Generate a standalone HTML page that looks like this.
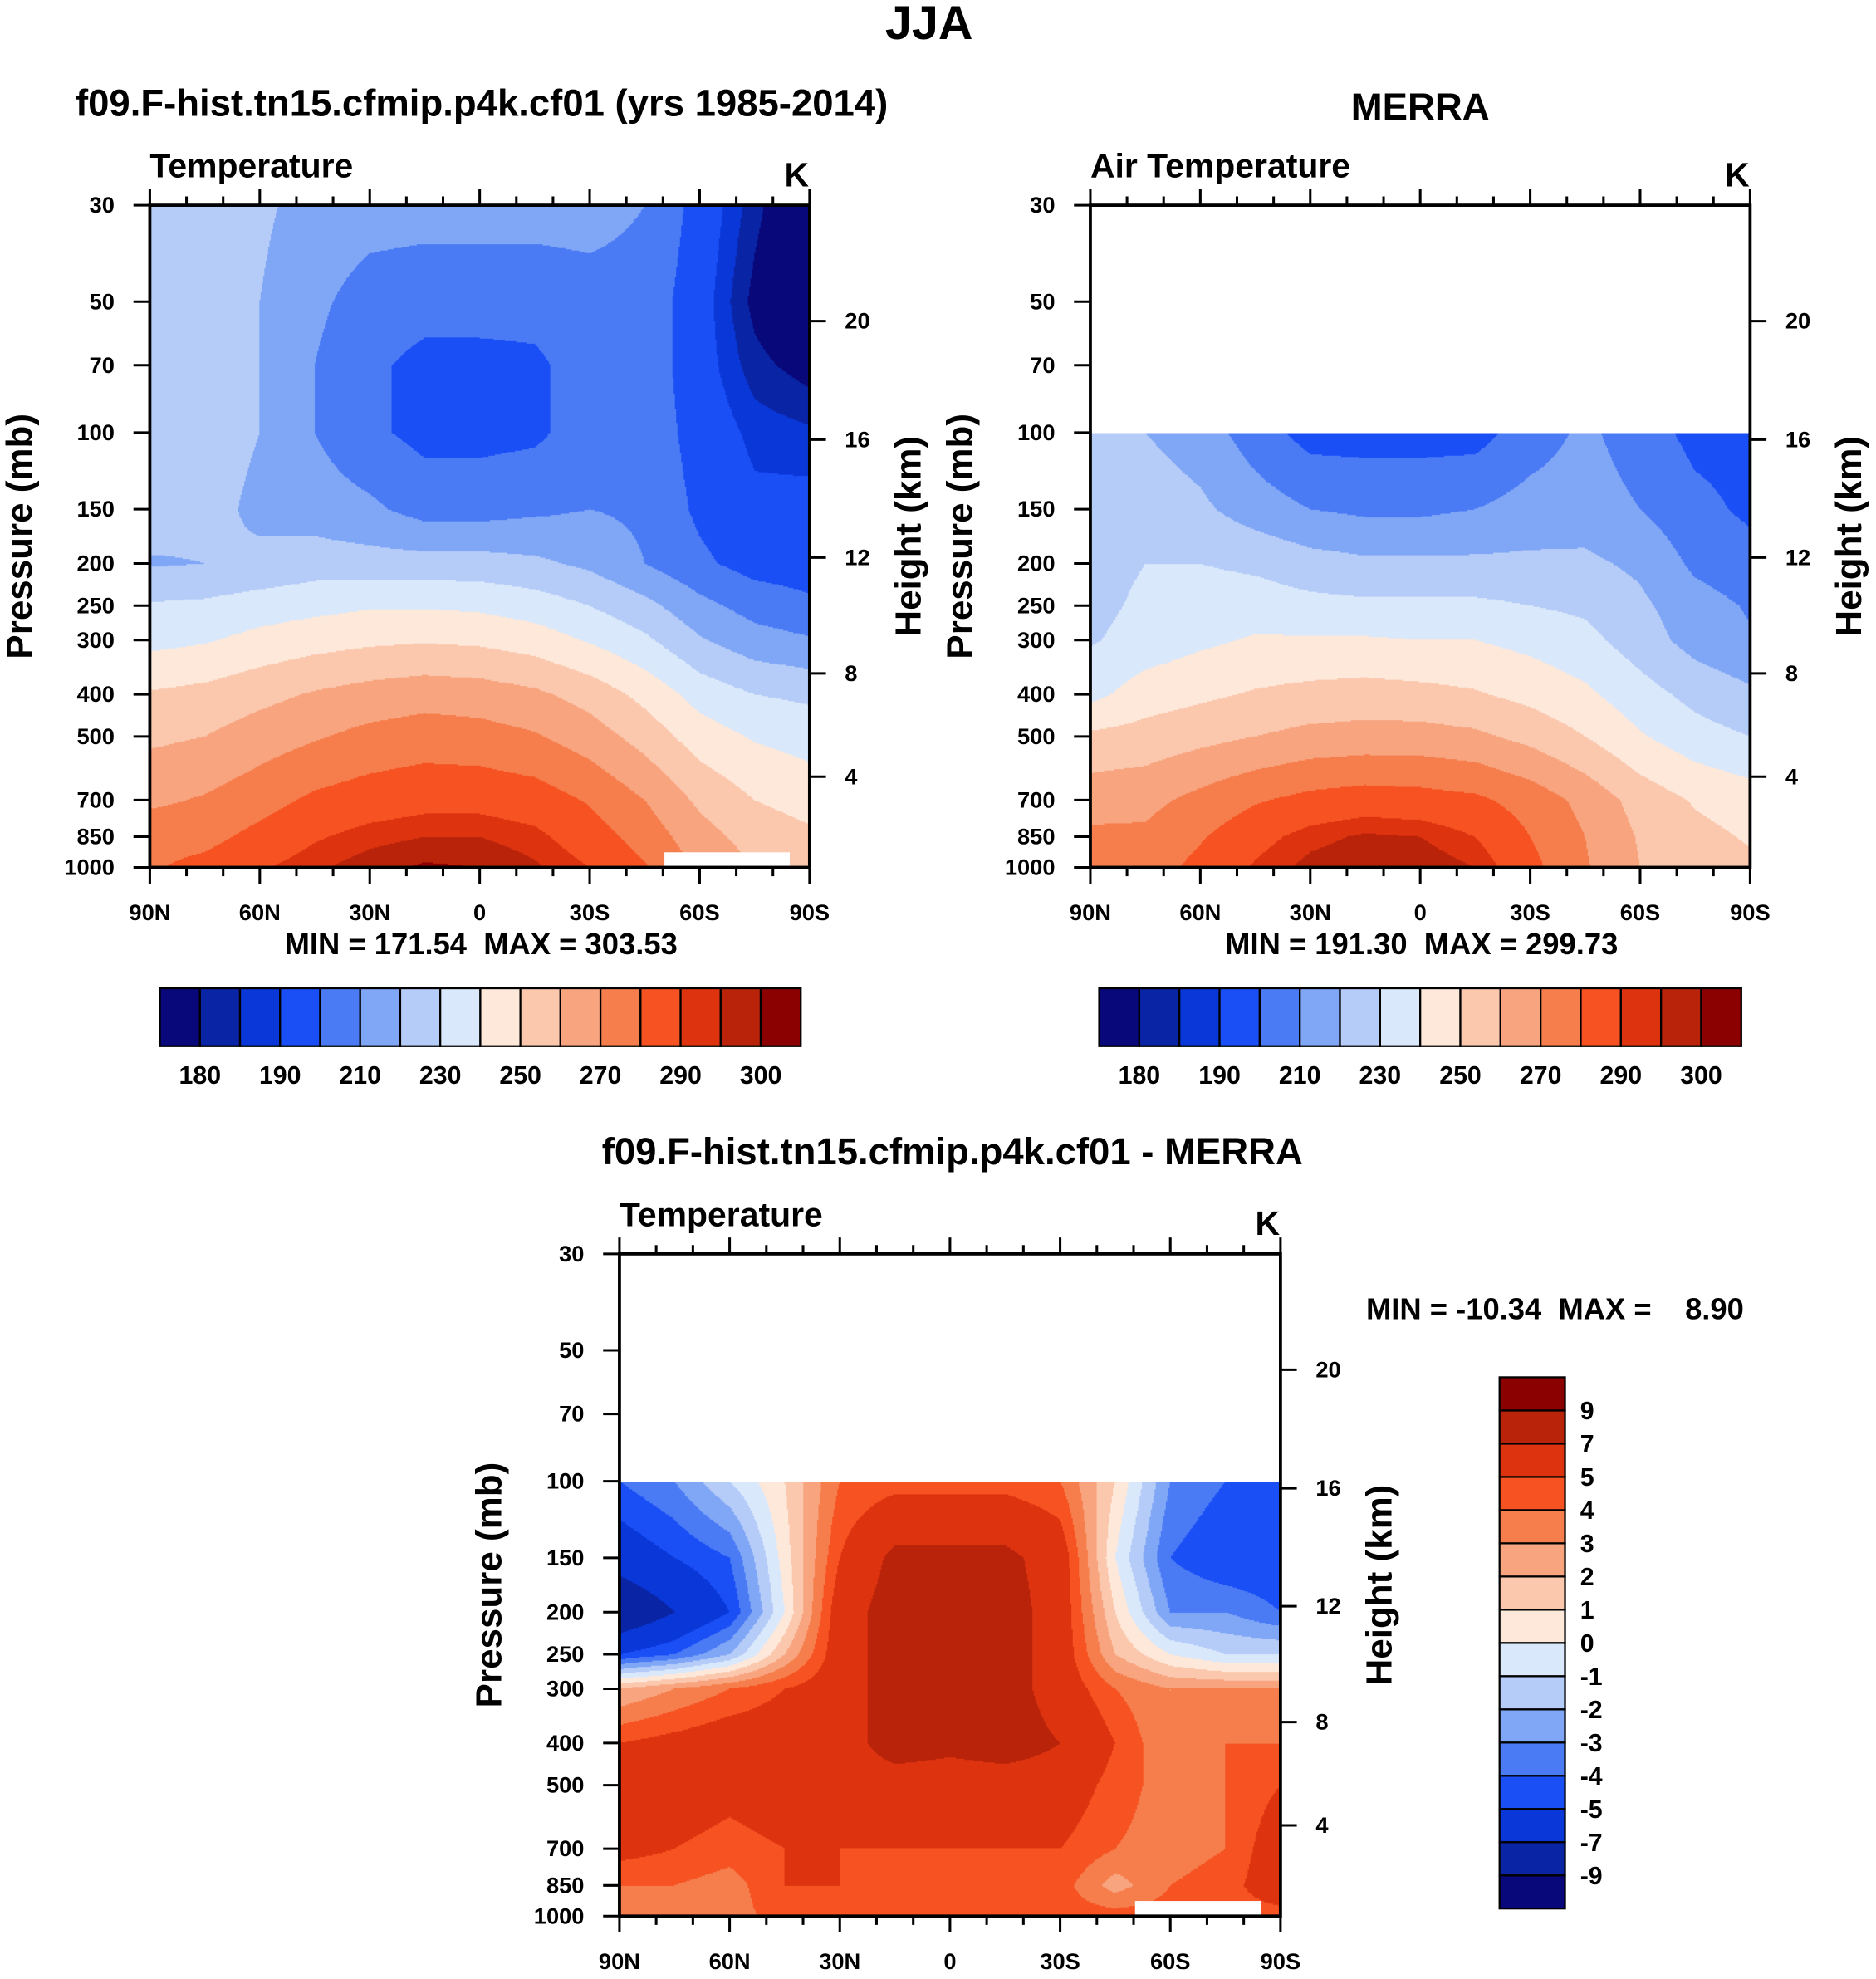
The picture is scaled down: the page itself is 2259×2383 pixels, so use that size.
<!DOCTYPE html>
<html><head><meta charset="utf-8"><style>
html,body{margin:0;padding:0;background:#fff;}
#wrap{position:absolute;left:0;top:0;width:1490px;height:1572px;transform:scale(1.51611,1.51594);transform-origin:0 0;font-family:"Liberation Sans",Arial,sans-serif;font-weight:bold;}
.t{position:absolute;white-space:nowrap;color:#000;}
canvas{position:absolute;}
svg{position:absolute;left:0;top:0;}
svg text{white-space:pre;}
</style></head><body>
<div id="wrap">
<div class="t" style="left:703px;top:-2px;font-size:38px">JJA</div>
<div class="t" style="left:60px;top:66px;font-size:30px">f09.F-hist.tn15.cfmip.p4k.cf01 (yrs 1985-2014)</div>
<div class="t" style="left:1073px;top:69px;font-size:30px">MERRA</div>
<div class="t" style="left:478px;top:899px;font-size:30px">f09.F-hist.tn15.cfmip.p4k.cf01 - MERRA</div>
<canvas id="c1" width="1048" height="1052" style="left:119px;top:163px;width:524px;height:526px"></canvas>
<canvas id="c2" width="1048" height="1052" style="left:866px;top:163px;width:524px;height:526px"></canvas>
<canvas id="c3" width="1050" height="1052" style="left:492px;top:996px;width:525px;height:526px"></canvas>
<svg id="ov" width="1490" height="1572" viewBox="0 0 1490 1572"></svg>
</div>
<script>
const levels=[30,50,70,100,150,200,250,300,400,500,700,850,1000];
const lats=[90,75,60,45,30,15,0,-15,-30,-45,-60,-75,-90];
const modelT=[
[225,224,222,216,214,214,214,214,214,210,196,182,170],
[225,224,220,212,206,204,204,204,206,206,194,178,170],
[225,224,220,210,202,197,197,198,205,206,194,182,177],
[225,224,220,210,202,197,197,198,205,206,196,188,186],
[225,223,218,215,212,206,206,208,210,208,198,192,193],
[219,220,222,225,224,224,224,222,218,210,202,196,195],
[231,232,235,237,239,239,238,235,230,223,213,206,202],
[237,239,243,246,248,249,248,245,239,232,221,214,211],
[251,253,257,261,264,266,265,262,256,247,236,230,228],
[258,260,265,269,273,275,274,271,265,256,245,239,236],
[268,271,276,282,285,287,287,285,279,270,258,250,246],
[276,277,283,289,293,295,295,292,285,276,264,256,252],
[279,283,289,294,298,301,300,296,290,281,268,260,255]];
const merraLevels=[100,150,200,250,300,400,500,700,850,1000];
const merraT=[
[224,220,215,205,196,196,196,196,205,212,205,197,196],
[228,226,222,215,210,208,208,210,214,215,210,203,198],
[226,230,230,228,224,222,222,222,222,222,218,208,204],
[227,232,235,235,233,232,232,232,230,228,222,214,209],
[229,234,238,241,241,241,240,240,237,233,225,216,211],
[237,245,248,251,253,254,253,251,247,242,234,227,222],
[252,254,257,260,263,264,264,262,257,250,241,234,230],
[266,267,273,279,283,285,284,282,276,267,256,249,245],
[272,272,279,287,293,296,295,290,280,270,259,253,249],
[275,275,283,291,297,299.5,299,295,283,271,260,255,252]];
const diffT=[
[-4,-3,-1,1,4,4.5,4.5,4.5,4,1,-3,-4,-4],
[-6,-5,-4,0.5,5,7.5,7.5,7.5,6,0,-4,-5,-5],
[-9,-7,-5,0,6,8,8,8,6,1,-3,-3,-4],
[-5,-4,-2,2,6,8,8,8,6,2,0,-1,-1],
[2,3,4,5,6,8,8,8,6,4,3,3,3],
[5,5.5,6,6,6,8,7.5,8,7,5,3,4,4],
[6,6,5.5,6,6,6,6,6,6,4.5,3.5,4,5],
[5.5,5,4.5,5,5,5,5,5,5,4,3.5,4,6],
[4,4,3.5,5,5,4.5,4.5,4.5,4.5,2.5,4,4.5,6],
[3.5,3.5,3.5,4.5,4.5,4.5,4.5,4.5,4.5,4.5,4.5,4.5,4.5]];
const tLevels=[180,185,190,200,210,220,230,240,250,260,270,280,290,295,300];
const tLabels=["180","190","210","230","250","270","290","300"];
const dLevels=[-9,-7,-5,-4,-3,-2,-1,0,1,2,3,4,5,7,9];
const colors=["#08087a","#0a24a6","#0a37d8","#1b4ff6","#4a7bf5","#80a6f6","#b5cbf8","#d9e8fb","#fde8da","#fbc7ad","#f8a47f","#f67e4d","#f65222","#de330f","#b8230a","#8b0000"];
const latLabels=["90N","60N","30N","0","30S","60S","90S"];
const pTicks=[30,50,70,100,150,200,250,300,400,500,700,850,1000];
const hTicks=[20,16,12,8,4];
const hTickFrac=[0.175,0.354,0.532,0.707,0.863];

function colorFor(v,lev){let i=0;while(i<lev.length&&v>=lev[i])i++;return colors[i];}
function sample(grid,plev,lat,p){
  const lp=Math.log(p);let r=0;
  while(r<plev.length-2&&Math.log(plev[r+1])<lp)r++;
  let fr=(lp-Math.log(plev[r]))/(Math.log(plev[r+1])-Math.log(plev[r]));fr=Math.max(0,Math.min(1,fr));
  let cf=(90-lat)/15;let c=Math.min(11,Math.floor(cf));let fc=cf-c;
  const a=grid[r][c]*(1-fc)+grid[r][c+1]*fc,b=grid[r+1][c]*(1-fc)+grid[r+1][c+1]*fc;
  return a*(1-fr)+b*fr;
}
function pOfFrac(f){return 30*Math.pow(1000/30,f);}
function draw(id,grid,plev,lev,pmin){
  const cv=document.getElementById(id),ctx=cv.getContext('2d');const W=cv.width,H=cv.height;const s=2;
  for(let y=0;y<H;y+=s){const p=pOfFrac((y+1)/H);if(p<pmin)continue;
    for(let x=0;x<W;x+=s){const lat=90-180*(x+1)/W;ctx.fillStyle=colorFor(sample(grid,plev,lat,p),lev);ctx.fillRect(x,y,s,s);}}
}
draw('c1',modelT,levels,tLevels,30);
draw('c2',merraT,merraLevels,tLevels,100);
draw('c3',diffT,merraLevels,dLevels,100);

const ov=document.getElementById('ov');const NS="http://www.w3.org/2000/svg";
function el(tag,attrs,txt){const e=document.createElementNS(NS,tag);for(const k in attrs)e.setAttribute(k,attrs[k]);if(txt!==undefined)e.textContent=txt;ov.appendChild(e);return e;}
function panel(L,T,W,H,name,sub,hasMissing){
  const R=L+W,B=T+H;const py=p=>T+Math.log(p/30)/Math.log(1000/30)*H;
  if(hasMissing){const m=el('rect',{x:L+W*0.78,y:B-12,width:W*0.19,height:12,fill:'#fff'});}
  const fr=el('rect',{x:L,y:T,width:W,height:H,fill:'none',stroke:'#000','stroke-width':2.5});
  
  for(let lat=90;lat>=-90;lat-=10){const x=L+(90-lat)/180*W;const major=lat%30===0;const len=major?13:7;
    el('line',{x1:x,y1:T,x2:x,y2:T-len,stroke:'#000','stroke-width':2});
    el('line',{x1:x,y1:B,x2:x,y2:B+len,stroke:'#000','stroke-width':2});}
  latLabels.forEach((lb,i)=>{const t=el('text',{x:L+i*W/6,y:B+42,'font-size':18,'text-anchor':'middle','font-weight':'bold'},lb);
    });
  pTicks.forEach(p=>{const y=py(p);el('line',{x1:L,y1:y,x2:L-13,y2:y,stroke:'#000','stroke-width':2});
    const t=el('text',{x:L-28,y:y+6,'font-size':18,'text-anchor':'end','font-weight':'bold'},String(p));
    });
  hTicks.forEach((h,i)=>{const y=T+hTickFrac[i]*H;el('line',{x1:R,y1:y,x2:R+13,y2:y,stroke:'#000','stroke-width':2});
    const t=el('text',{x:R+28,y:y+6,'font-size':18,'font-weight':'bold'},String(h));
    });
  const a=el('text',{x:L,y:T-22,'font-size':27,'font-weight':'bold'},sub);
  const k=el('text',{x:R-20,y:T-15,'font-size':27,'font-weight':'bold'},'K');
  const yl=el('text',{transform:`translate(${L-94},${T+H/2}) rotate(-90)`,'font-size':29,'text-anchor':'middle','font-weight':'bold'},'Pressure (mb)');
  
  const hl=el('text',{transform:`translate(${R+88},${T+H/2}) rotate(-90)`,'font-size':29,'text-anchor':'middle','font-weight':'bold'},'Height (km)');
  
}
panel(119,163,524,526,'model','Temperature',true);
panel(866,163,524,526,'merra','Air Temperature',false);
panel(492,996,525,526,'diff','Temperature',true);

function stat(x,y,txt){const t=el('text',{x:x,y:y,'font-size':24,'font-weight':'bold','xml:space':'preserve'},txt);}
stat(226,758,'MIN = 171.54  MAX = 303.53');
stat(973,758,'MIN = 191.30  MAX = 299.73');
stat(1085,1048,'MIN = -10.34  MAX =    8.90');

function hbar(L,T,W,H){const bw=W/16;
  for(let i=0;i<16;i++){const r=el('rect',{x:L+i*bw,y:T,width:bw,height:H,fill:colors[i],stroke:'#000','stroke-width':1.5});
    }
  tLabels.forEach((lb,j)=>{const t=el('text',{x:L+(2*j+1)*bw,y:T+H+30,'font-size':20,'text-anchor':'middle','font-weight':'bold'},lb);
    });
}
hbar(127,785,509,46);
hbar(873,785,510,46);
(function(){const L=1191,T=1094,W=52,H=422,bh=H/16;
  for(let i=0;i<16;i++){const r=el('rect',{x:L,y:T+H-(i+1)*bh,width:W,height:bh,fill:colors[i],stroke:'#000','stroke-width':1.5});
    }
  dLevels.forEach((v,i)=>{const t=el('text',{x:L+W+12,y:T+H-(i+1)*bh+7,'font-size':20,'font-weight':'bold'},String(v));
    });
})();
</script>
</body></html>
